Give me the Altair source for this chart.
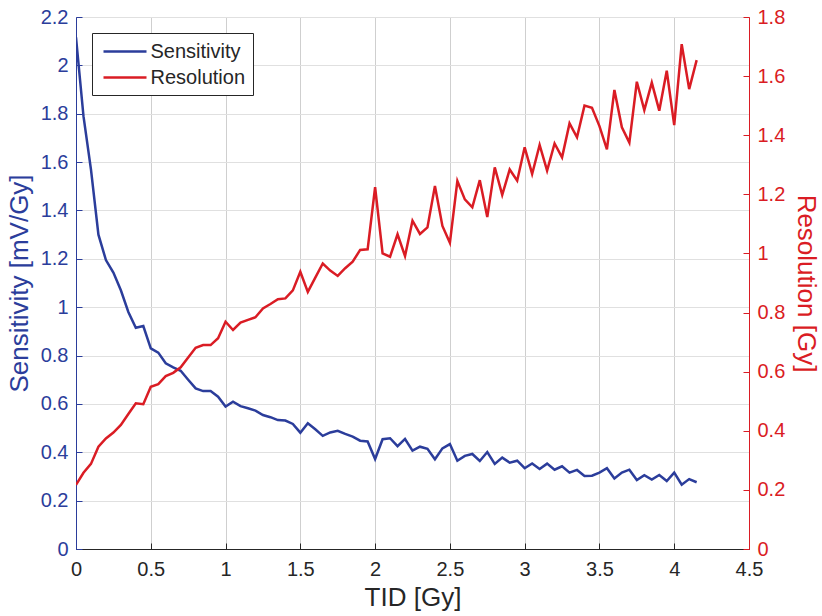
import altair as alt
import pandas as pd

# TID steps (Gy)
tid = [0.00, 0.05, 0.10, 0.15, 0.20, 0.25, 0.30, 0.35, 0.40, 0.45,
       0.50, 0.55, 0.60, 0.65, 0.70, 0.75, 0.80, 0.85, 0.90, 0.95,
       1.00, 1.05, 1.10, 1.15, 1.20, 1.25, 1.30, 1.35, 1.40, 1.45,
       1.50, 1.55, 1.60, 1.65, 1.70, 1.75, 1.80, 1.85, 1.90, 1.95,
       2.00, 2.05, 2.10, 2.15, 2.20, 2.25, 2.30, 2.35, 2.40, 2.45,
       2.50, 2.55, 2.60, 2.65, 2.70, 2.75, 2.80, 2.85, 2.90, 2.95,
       3.00, 3.05, 3.10, 3.15, 3.20, 3.25, 3.30, 3.35, 3.40, 3.45,
       3.50, 3.55, 3.60, 3.65, 3.70, 3.75, 3.80, 3.85, 3.90, 3.95,
       4.00, 4.05, 4.10, 4.15]

# Sensitivity [mV/Gy] (left axis)
sensitivity = [2.116, 1.79, 1.57, 1.30, 1.195, 1.143, 1.07, 0.98, 0.915, 0.922,
               0.83, 0.812, 0.768, 0.751, 0.737, 0.70, 0.664, 0.653, 0.653, 0.63,
               0.589, 0.609, 0.591, 0.582, 0.572, 0.554, 0.545, 0.533, 0.531, 0.517,
               0.481, 0.52, 0.495, 0.468, 0.482, 0.489, 0.476, 0.465, 0.448, 0.445,
               0.372, 0.454, 0.458, 0.425, 0.455, 0.407, 0.423, 0.414, 0.371, 0.416,
               0.434, 0.365, 0.385, 0.393, 0.364, 0.401, 0.352, 0.378, 0.357, 0.365,
               0.334, 0.354, 0.331, 0.353, 0.328, 0.342, 0.316, 0.327, 0.302, 0.303,
               0.316, 0.334, 0.292, 0.316, 0.328, 0.285, 0.305, 0.287, 0.306, 0.281,
               0.316, 0.266, 0.289, 0.276]

# Resolution [Gy] (right axis)
resolution = [0.217, 0.258, 0.288, 0.346, 0.374, 0.394, 0.42, 0.457, 0.493, 0.49,
              0.549, 0.558, 0.585, 0.596, 0.615, 0.648, 0.681, 0.69, 0.69, 0.713,
              0.769, 0.741, 0.766, 0.775, 0.784, 0.814, 0.829, 0.845, 0.848, 0.875,
              0.938, 0.87, 0.918, 0.966, 0.942, 0.924, 0.95, 0.972, 1.012, 1.014,
              1.224, 1.0, 0.989, 1.065, 0.991, 1.111, 1.066, 1.088, 1.228, 1.093,
              1.036, 1.245, 1.183, 1.156, 1.248, 1.123, 1.291, 1.198, 1.284, 1.246,
              1.359, 1.269, 1.367, 1.28, 1.372, 1.325, 1.44, 1.393, 1.5, 1.493,
              1.431, 1.352, 1.553, 1.427, 1.375, 1.581, 1.485, 1.578, 1.483, 1.618,
              1.434, 1.708, 1.556, 1.654]

series_names = ["Sensitivity", "Resolution"]
x_ticks = [0, 0.5, 1, 1.5, 2, 2.5, 3, 3.5, 4, 4.5]
left_ticks = [0, 0.2, 0.4, 0.6, 0.8, 1, 1.2, 1.4, 1.6, 1.8, 2, 2.2]
right_ticks = [0, 0.2, 0.4, 0.6, 0.8, 1, 1.2, 1.4, 1.6, 1.8]

BLUE = "#2B3D9B"
RED = "#DA1C24"
DARK = "#262626"
FONT = "Liberation Sans"
TITLE_SIZE = 26

df_s = pd.DataFrame({"TID": tid, "value": sensitivity, "series": series_names[0]})
df_r = pd.DataFrame({"TID": tid, "value": resolution, "series": series_names[1]})

x_axis = alt.Axis(values=x_ticks, format=".1~f", title="TID [Gy]", grid=True,
                  gridColor="#cfcfcf", gridWidth=1, domainColor=DARK, tickColor=DARK,
                  tickSize={"expr": "-6"}, labelPadding=16, labelColor=DARK,
                  labelFlush=False, labelOverlap=False,
                  labelFontSize=20, labelFont=FONT, titleFont=FONT,
                  titleFontSize=TITLE_SIZE, titleFontWeight="normal",
                  titleColor=DARK, titlePadding=5)
x_enc = alt.X("TID:Q", scale=alt.Scale(domain=[0, 4.5], nice=False, zero=False), axis=x_axis)

legend = alt.Legend(orient="none", legendX=16, legendY=16, title=None,
                    symbolType="M-2.15,0H2.15", symbolSize=400, symbolStrokeWidth=2.5,
                    symbolOffset=14.5, labelOffset=14, labelFontSize=20, labelFont=FONT,
                    labelColor=DARK, padding=7, rowPadding=4, strokeColor=DARK,
                    fillColor="white", cornerRadius=0)
color_enc = alt.Color("series:N",
                      scale=alt.Scale(domain=series_names, range=[BLUE, RED]),
                      legend=legend)

left = alt.Chart(df_s).mark_line(strokeWidth=2.5, clip=True).encode(
    x=x_enc,
    y=alt.Y("value:Q", scale=alt.Scale(domain=[0, 2.2], nice=False),
            axis=alt.Axis(orient="left", values=left_ticks, format=".1~f",
                          title="Sensitivity [mV/Gy]", grid=True, gridColor="#e0e0e0",
                          domainColor=BLUE, tickColor=BLUE, tickSize={"expr": "-6"},
                          labelPadding=14, labelColor=BLUE, labelFontSize=20,
                          labelOverlap=False, labelFlush=False,
                          labelFont=FONT, titleFont=FONT, titleFontSize=TITLE_SIZE,
                          titleFontWeight="normal", titleColor=BLUE, titlePadding=8)),
    color=color_enc,
    order="TID:Q",
)

right = alt.Chart(df_r).mark_line(strokeWidth=2.5, clip=True).encode(
    x=x_enc,
    y=alt.Y("value:Q", scale=alt.Scale(domain=[0, 1.8], nice=False),
            axis=alt.Axis(orient="right", values=right_ticks, format=".1~f",
                          title="Resolution [Gy]", grid=False,
                          domainColor=RED, tickColor=RED, tickSize={"expr": "-6"},
                          labelPadding=14, labelColor=RED, labelFontSize=20,
                          labelOverlap=False, labelFlush=False,
                          labelFont=FONT, titleFont=FONT, titleFontSize=TITLE_SIZE,
                          titleFontWeight="normal", titleColor=RED, titlePadding=8)),
    color=color_enc,
    order="TID:Q",
)

chart = alt.layer(left, right).resolve_scale(y="independent").properties(
    width=673, height=532,
    autosize=alt.AutoSizeParams(type="none"),
    padding={"left": 76, "top": 17, "right": 73, "bottom": 67},
    background="white",
).configure_view(stroke=DARK, strokeWidth=1)

chart.save("out.html", embed_options={"renderer": "svg", "actions": False})
